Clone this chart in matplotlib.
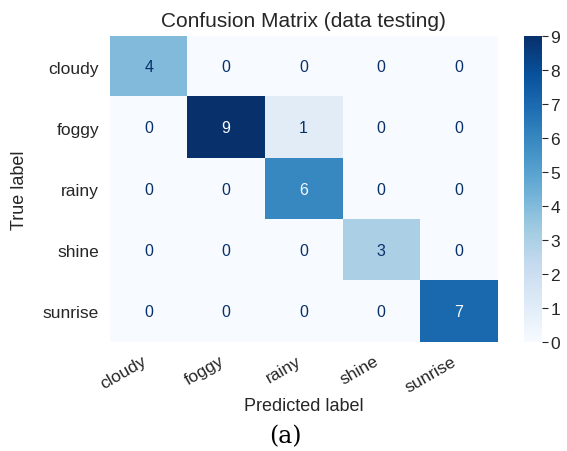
import numpy as np
import matplotlib
matplotlib.use("Agg")
import matplotlib.pyplot as plt

labels = ["cloudy", "foggy", "rainy", "shine", "sunrise"]
cm = np.array([
    [4, 0, 0, 0, 0],
    [0, 9, 1, 0, 0],
    [0, 0, 6, 0, 0],
    [0, 0, 0, 3, 0],
    [0, 0, 0, 0, 7],
])

plt.rcParams['font.family'] = ['Liberation Sans', 'DejaVu Sans']
text_col = '#262626'

fig = plt.figure(figsize=(5.67, 4.52), dpi=100)
ax = fig.add_axes([0.194, 0.241, 0.683, 0.677])
cax = fig.add_axes([0.924, 0.241, 0.032, 0.677])

cmap = plt.get_cmap('Blues')
im = ax.imshow(cm, cmap=cmap, vmin=0, vmax=cm.max(), aspect='auto', interpolation='nearest')

# text colour flips at the middle of the range, like sklearn's display
thresh = (cm.max() + cm.min()) / 2.0
for i in range(cm.shape[0]):
    for j in range(cm.shape[1]):
        c = cmap(0.0) if cm[i, j] > thresh else cmap(1.0)
        ax.text(j, i, str(cm[i, j]), ha='center', va='center', color=c, fontsize=11.5)

ax.set_xticks(range(len(labels)))
ax.set_yticks(range(len(labels)))
ax.set_xticklabels(labels, rotation=30, ha='right')
ax.set_yticklabels(labels)
ax.tick_params(length=0, labelsize=12.5, labelcolor=text_col, pad=8)
for s in ax.spines.values():
    s.set_visible(False)
ax.set_xlabel('Predicted label', fontsize=13, color=text_col, labelpad=2)
ax.set_ylabel('True label', fontsize=13, color=text_col)
ax.yaxis.set_label_coords(-0.212, 0.5)
ax.set_title('Confusion Matrix (data testing)', fontsize=15, color=text_col, pad=7)

cb = fig.colorbar(im, cax=cax)
cb.outline.set_visible(False)
cb.set_ticks(range(0, 10))
cax.tick_params(length=4, width=0.8, color=text_col, labelsize=12.5, labelcolor=text_col, pad=2)

fig.text(0.503, 0.033, '(a)', ha='center', va='center', fontsize=17, family='DejaVu Serif', color='black')

fig.savefig('out.png', dpi=100)
